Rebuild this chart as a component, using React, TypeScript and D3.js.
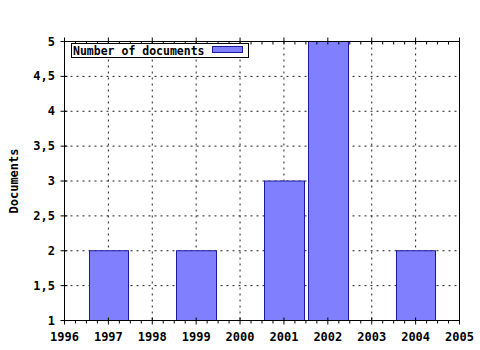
import React from "react";
import * as d3 from "d3";

const years = [1997, 1999, 2001, 2002, 2004];
const documents = [2, 2, 3, 5, 2];
const xTicks = [1996, 1997, 1998, 1999, 2000, 2001, 2002, 2003, 2004, 2005];
const yTicks = [1, 1.5, 2, 2.5, 3, 3.5, 4, 4.5, 5];
const seriesName = "Number of documents";
const yTitle = "Documents";

const W = 480, H = 350;
const font = "'DejaVu Sans Mono', monospace";

export default function App() {
  const x = d3.scaleLinear().domain([1996, 2005]).range([64.5, 459.5]);
  const y = d3.scaleLinear().domain([1, 5]).range([320.5, 41.5]);
  const barW = 0.9;
  const minor: number[] = [];
  for (let i = 0; i < xTicks.length - 1; i++) {
    for (let k = 1; k < 4; k++) minor.push(xTicks[i] + k / 4);
  }
  const fmt = (v: number) => String(v).replace(".", ",");
  return (
    <svg width={W} height={H} style={{ position: "absolute", left: 0, top: 0, background: "#fff" }}>
      <rect x={0} y={0} width={W} height={H} fill="#fff" />
      {/* grid */}
      {xTicks.slice(1, -1).map((t) => (
        <line key={"gx" + t} x1={x(t)} x2={x(t)} y1={y(5)} y2={y(1)} stroke="#222" strokeDasharray="2 4" />
      ))}
      {yTicks.slice(1, -1).map((t) => (
        <line key={"gy" + t} x1={x(1996)} x2={x(2005)} y1={y(t)} y2={y(t)} stroke="#222" strokeDasharray="2 4" />
      ))}
      {/* bars */}
      {years.map((yr, i) => {
        const x0 = Math.round(x(yr - barW / 2)) + 0.5;
        const x1 = Math.round(x(yr + barW / 2)) + 0.5;
        return (
          <rect key={yr} x={x0} y={y(documents[i])} width={x1 - x0} height={y(1) - y(documents[i])}
            fill="#8080ff" stroke="#1a1aa0" strokeWidth={1} />
        );
      })}
      {/* frame */}
      <rect x={x(1996)} y={y(5)} width={x(2005) - x(1996)} height={y(1) - y(5)} fill="none" stroke="#000" />
      {/* x ticks bottom and top */}
      {xTicks.map((t) => (
        <g key={"xt" + t}>
          <line x1={x(t)} x2={x(t)} y1={y(1) - 3} y2={y(1) + 4} stroke="#000" />
          <line x1={x(t)} x2={x(t)} y1={y(5) - 4} y2={y(5) + 3} stroke="#000" />
          <text x={x(t)} y={341} textAnchor="middle" fontFamily={font} fontWeight="bold" fontSize={12} fill="#000">{t}</text>
        </g>
      ))}
      {minor.map((t, i) => (
        <g key={"mt" + i}>
          <line x1={x(t)} x2={x(t)} y1={y(1)} y2={y(1) + 3} stroke="#000" />
          <line x1={x(t)} x2={x(t)} y1={y(5)} y2={y(5) + 3} stroke="#000" />
        </g>
      ))}
      {/* y ticks */}
      {yTicks.map((t) => (
        <g key={"yt" + t}>
          <line x1={x(1996) - 4} x2={x(1996) + 3} y1={y(t)} y2={y(t)} stroke="#000" />
          <text x={55} y={y(t) + 4} textAnchor="end" fontFamily={font} fontWeight="bold" fontSize={12} fill="#000">{fmt(t)}</text>
        </g>
      ))}
      <text transform={`translate(18,181) rotate(-90)`} textAnchor="middle" fontFamily={font} fontWeight="bold" fontSize={12} fill="#000">{yTitle}</text>
      {/* legend */}
      <rect x={71.5} y={43.5} width={177} height={14} fill="#fff" stroke="#000" />
      <text x={73} y={55} fontFamily={font} fontWeight="bold" fontSize={11.5} fill="#000">{seriesName}</text>
      <rect x={212.5} y={46.5} width={30} height={6} fill="#8080ff" stroke="#1a1aa0" />
    </svg>
  );
}
